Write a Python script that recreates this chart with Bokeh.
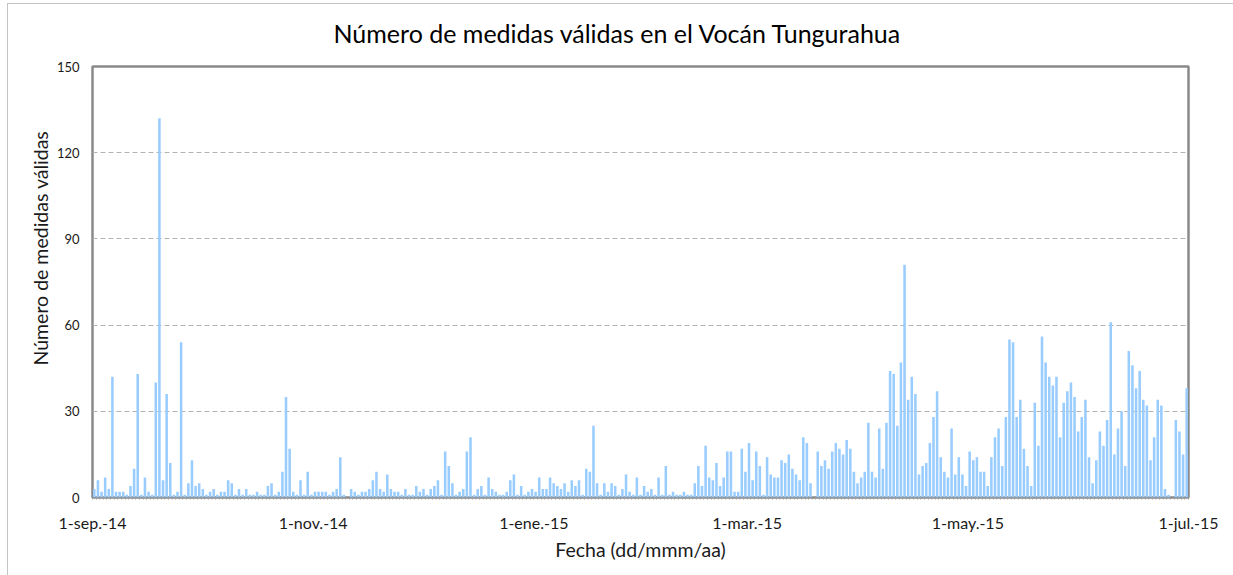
import pandas as pd
from bokeh.plotting import figure
from bokeh.models import ColumnDataSource, Range1d, FixedTicker, Title
from bokeh.embed import file_html
from bokeh.resources import INLINE

# ---- data -------------------------------------------------------------
start_date = "2014-09-01"
end_date = "2015-06-30"
dates = pd.date_range(start_date, end_date, freq="D")

valid_counts = [
    3, 6, 2, 7, 3, 42, 2, 2, 2, 1, 4, 10, 43, 1, 7, 2, 1, 40, 132, 6, 36, 12, 1, 2, 54, 1, 5, 13, 4, 5, 3, 1, 2, 3, 1, 2, 2, 6,
    5, 1, 3, 1, 3, 1, 1, 2, 1, 1, 4, 5, 1, 2, 9, 35, 17, 2, 1, 6, 1, 9, 1, 2, 2, 2, 2, 1, 2, 3, 14, 1, 0, 3, 2, 1, 2, 2,
    3, 6, 9, 3, 2, 8, 3, 2, 2, 1, 3, 1, 1, 4, 2, 3, 1, 3, 4, 6, 1, 16, 11, 5, 1, 2, 3, 16, 21, 1, 3, 4, 1, 7, 3, 2, 1, 1,
    2, 6, 8, 1, 4, 1, 2, 3, 2, 7, 3, 3, 7, 5, 4, 3, 5, 2, 6, 4, 6, 1, 10, 9, 25, 5, 1, 5, 2, 5, 4, 1, 3, 8, 2, 1, 7, 1,
    4, 2, 3, 1, 7, 1, 11, 1, 2, 1, 1, 2, 1, 1, 5, 11, 4, 18, 7, 6, 12, 4, 7, 16, 16, 2, 2, 17, 9, 19, 6, 16, 11, 1, 14, 8, 7, 7,
    13, 12, 15, 10, 8, 6, 21, 19, 5, 0, 16, 11, 13, 10, 16, 19, 17, 15, 20, 17, 9, 5, 7, 9, 26, 9, 7, 24, 10, 26, 44, 43, 25, 47, 81, 34, 42, 36,
    8, 11, 12, 19, 28, 37, 14, 9, 7, 24, 8, 14, 8, 4, 16, 13, 14, 9, 9, 4, 14, 21, 24, 11, 28, 55, 54, 28, 34, 17, 11, 4, 33, 18, 56, 47, 42, 39,
    42, 21, 33, 37, 40, 35, 23, 28, 34, 14, 5, 13, 23, 18, 27, 61, 15, 24, 30, 11, 51, 46, 38, 44, 34, 32, 13, 21, 34, 32, 3, 1, 0, 27, 23, 15, 38,
]

tick_dates = ["2014-09-01", "2014-11-01", "2015-01-01", "2015-03-01", "2015-05-01", "2015-07-01"]
tick_labels = ["1-sep.-14", "1-nov.-14", "1-ene.-15", "1-mar.-15", "1-may.-15", "1-jul.-15"]
y_ticks = [0, 30, 60, 90, 120, 150]

title_text = "Número de medidas válidas en el Vocán Tungurahua"
x_title = "Fecha (dd/mmm/aa)"
y_title = "Número de medidas válidas"

# ---- derived ------------------------------------------------------------
t0 = pd.Timestamp(start_date)
day_pos = [(d - t0).days + 0.5 for d in dates]
tick_pos = [(pd.Timestamp(t) - t0).days for t in tick_dates]
n_days_axis = tick_pos[-1]

source = ColumnDataSource(dict(x=day_pos, top=valid_counts[:len(day_pos)]))

FONT = "Lato"
TXT = "#1a1a1a"
W, H = 1233, 575
EDGE = "#c4c4c4"

p = figure(
    width=W, height=H,
    output_backend="svg", toolbar_location=None,
    x_range=Range1d(0, n_days_axis), y_range=Range1d(0, 150),
    min_border_left=92, min_border_right=45, min_border_top=66, min_border_bottom=78,
    background_fill_color="white", border_fill_color=None,
)
# thin outer chart border (left and top edges, as in the reference)
p.styles = {
    "background": (f"linear-gradient({EDGE},{EDGE}) 7px 3px / 1px 100% no-repeat, "
                   f"linear-gradient({EDGE},{EDGE}) 7px 3px / 100% 1px no-repeat, white"),
}

p.vbar(x="x", top="top", bottom=0, width=0.7, source=source,
       fill_color="#99CCFF", line_color=None)

# title
p.title.text = title_text
p.title.align = "left"
p.title.offset = 241
p.title.vertical_align = "top"
p.title.text_font = FONT
p.title.text_font_size = "25px"
p.title.text_font_style = "normal"
p.title.text_color = "#000000"
p.title.standoff = 34

# frame
p.outline_line_color = "#8a8a8a"
p.outline_line_width = 2.5

# grid
p.xgrid.visible = False
p.ygrid.ticker = FixedTicker(ticks=y_ticks)
p.ygrid.grid_line_color = "#b3b3b3"
p.ygrid.grid_line_dash = "5 3"
p.ygrid.grid_line_width = 1

# x axis
xa = p.xaxis[0]
xa.ticker = FixedTicker(ticks=tick_pos, minor_ticks=list(range(0, n_days_axis + 1)))
xa.major_label_overrides = {t: l for t, l in zip(tick_pos, tick_labels)}
xa.axis_line_color = None
xa.major_tick_line_color = None
xa.minor_tick_line_color = "#a0a0a0"
xa.minor_tick_in = 0
xa.minor_tick_out = 2
xa.major_tick_out = 0
xa.major_label_standoff = 13
xa.major_label_text_font = FONT
xa.major_label_text_font_size = "16px"
xa.major_label_text_color = TXT
xa.axis_label = x_title
xa.axis_label_text_font = FONT
xa.axis_label_text_font_size = "19.5px"
xa.axis_label_text_font_style = "normal"
xa.axis_label_text_color = TXT
xa.axis_label_standoff = 3

# y axis
ya = p.yaxis[0]
ya.ticker = FixedTicker(ticks=y_ticks)
ya.axis_line_color = None
ya.major_tick_line_color = None
ya.minor_tick_line_color = None
ya.major_tick_out = 0
ya.major_label_standoff = 13
ya.major_label_text_font = FONT
ya.major_label_text_font_size = "13px"
ya.major_label_text_color = TXT

# y-axis title as a side title, shifted up like in the reference
ytitle = Title(text=y_title, align="left", offset=132, standoff=4,
               text_font=FONT, text_font_size="19.5px", text_font_style="normal",
               text_color=TXT)
p.add_layout(ytitle, "left")

open("out.html", "w").write(file_html(p, INLINE))
